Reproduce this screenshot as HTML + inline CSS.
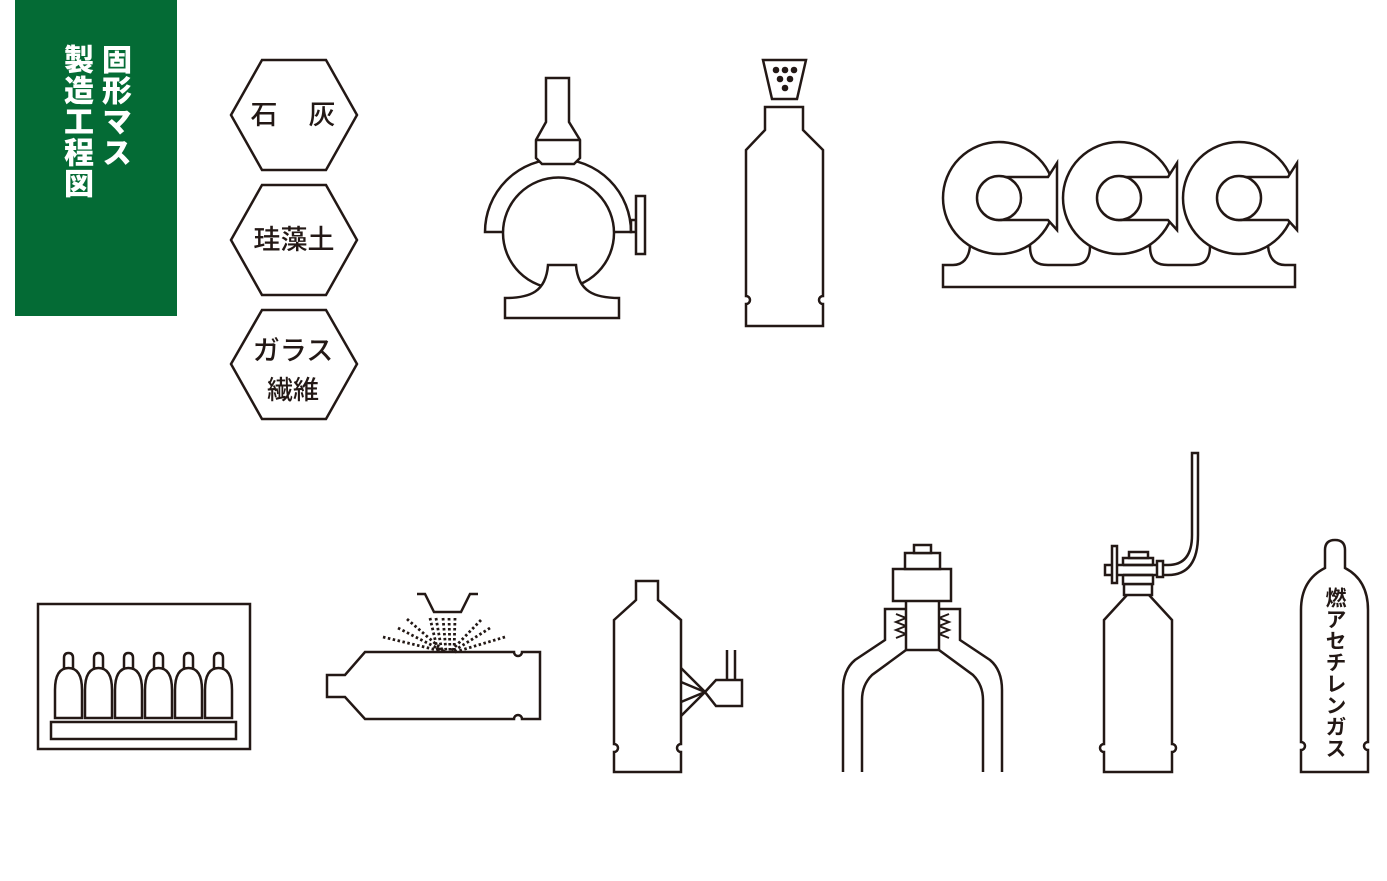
<!DOCTYPE html>
<html><head><meta charset="utf-8"><style>
html,body{margin:0;padding:0;background:#fff;}
svg{display:block;}
.v{position:absolute;writing-mode:vertical-rl;color:#fff;font-family:"Liberation Sans","Noto Sans CJK JP",sans-serif;font-weight:900;font-size:30px;line-height:34px;letter-spacing:1px;}
</style></head><body>
<div style="position:relative;width:1387px;height:881px;overflow:hidden">
<svg width="1387" height="881" viewBox="0 0 1387 881" xmlns="http://www.w3.org/2000/svg">
<rect x="15" y="0" width="162" height="316" fill="#046b35"/>
<g fill="#fff" stroke="#231815" stroke-width="2.5" stroke-linejoin="miter">
<polygon points="231,115 262,60 326,60 357,115 326,170 262,170"/>
<polygon points="231,240 262,185 326,185 357,240 326,295 262,295"/>
<polygon points="231,364 262,310 326,310 357,364 326,419 262,419"/>

<path d="M485,232 A73,73 0 0 1 631,232 L614,232 L503,232 Z"/>
<circle cx="558.5" cy="233" r="55.5"/>
<path d="M505,318 L619,318 L619,298 C595,298 578,292 576,265 L548,265 C546,292 530,298 505,298 Z"/>
<rect x="631" y="220" width="5" height="12"/>
<rect x="636" y="196" width="9" height="58"/>
<path d="M546,78 L569,78 L569,122 L580,140 L580,158 L574,164 L542,164 L536,158 L536,140 L546,122 Z"/>
<line x1="536" y1="140" x2="580" y2="140"/>

<path d="M763,60 L806,60 L797,99 L772,99 Z"/>
<path d="M765,107 L803,107 L803,130 L823,150 L823,296 A4,4 0 0 0 823,304 L823,326 L746,326 L746,304 A4,4 0 0 0 746,296 L746,150 L765,130 Z"/>

<path d="M943,287 L1295,287 L1295,265 L1285,265 C1275,265 1269,258 1268,246 L1210,246 C1210,262 1202,265 1192,265 L1168,265 C1158,265 1150,262 1150,246 L1090,246 C1090,262 1082,265 1072,265 L1048,265 C1038,265 1030,262 1030,246 L970,246 C969,258 963,265 953,265 L943,265 Z"/>
</g>
<g fill="#231815">
<circle cx="776" cy="70" r="3.3"/><circle cx="785" cy="70" r="3.3"/><circle cx="794" cy="70" r="3.3"/>
<circle cx="780" cy="79" r="3.3"/><circle cx="790" cy="79" r="3.3"/><circle cx="785" cy="88" r="3.3"/>
</g>
<g fill="#fff" stroke="#231815" stroke-width="2.5">
<g>
<circle cx="999" cy="198" r="56"/>
<path d="M999,177 L1048,177 L1057,163 L1057,230 L1048,220 L999,220 Z"/>
<circle cx="999" cy="198" r="22"/>
</g>
<g transform="translate(120,0)">
<circle cx="999" cy="198" r="56"/>
<path d="M999,177 L1048,177 L1057,163 L1057,230 L1048,220 L999,220 Z"/>
<circle cx="999" cy="198" r="22"/>
</g>
<g transform="translate(240,0)">
<circle cx="999" cy="198" r="56"/>
<path d="M999,177 L1048,177 L1057,163 L1057,230 L1048,220 L999,220 Z"/>
<circle cx="999" cy="198" r="22"/>
</g>

<rect x="38" y="604" width="212" height="145"/>
<rect x="51" y="722" width="185" height="17"/>
<g id="ob">
<path d="M64,670 L64,658 Q64,653 68.5,653 Q73,653 73,658 L73,670"/>
<path d="M55,718 L55,690 Q55,668 68.5,668 Q82,668 82,690 L82,718 Z"/>
</g>
<use href="#ob" x="30"/><use href="#ob" x="60"/><use href="#ob" x="90"/><use href="#ob" x="120"/><use href="#ob" x="150"/>

<path d="M327,675 L345,675 L365,652 L514,652 A4,4 0 0 0 522,652 L540,652 L540,719 L522,719 A4,4 0 0 0 514,719 L365,719 L345,697 L327,697 Z"/>
<path d="M417,594 L425,594 L434,612 L461,612 L470,594 L478,594" fill="none"/>
</g>
<g stroke="#231815" stroke-width="2.8" stroke-dasharray="2.5,2.5" fill="none">
<line x1="383" y1="637" x2="445" y2="652"/>
<line x1="398" y1="628" x2="445" y2="652"/>
<line x1="407" y1="619" x2="445" y2="652"/>
<line x1="430" y1="618" x2="438" y2="652"/>
<line x1="436" y1="618" x2="442" y2="652"/>
<line x1="443" y1="618" x2="446" y2="652"/>
<line x1="449" y1="618" x2="450" y2="652"/>
<line x1="455" y1="618" x2="454" y2="652"/>
<line x1="481" y1="620" x2="450" y2="652"/>
<line x1="490" y1="628" x2="452" y2="652"/>
<line x1="505" y1="637" x2="455" y2="652"/>
</g>
<g fill="#fff" stroke="#231815" stroke-width="2.5">
<path d="M636,581 L658,581 L658,600 L681,620 L681,744 A4,4 0 0 0 681,752 L681,772 L614,772 L614,752 A4,4 0 0 0 614,744 L614,620 L636,600 Z"/>
<path d="M681,668 L705,692 L681,702 M681,716 L705,692 L681,682" fill="none"/>
<path d="M705,692 L716,680 L742,680 L742,706 L716,706 Z"/>
<path d="M727,650 L727,680 M735,650 L735,680" fill="none"/>

<path d="M843,772 L843,690 Q843,670 855,660 L885,640 L885,609 L906,609 M939,609 L960,609 L960,640 L990,660 Q1002,670 1002,690 L1002,772" fill="none"/>
<path d="M862,772 L862,700 Q862,685 872,675 L906,650 M939,650 L973,675 Q983,685 983,700 L983,772" fill="none"/>
<path d="M896,614 L906,618 L896,622 L906,626 L896,630 L906,634 L896,638 M949,614 L939,618 L949,622 L939,626 L949,630 L939,634 L949,638" fill="none" stroke-width="2"/>
<rect x="906" y="600" width="33" height="50"/>
<rect x="893" y="569" width="58" height="32"/>
<rect x="905" y="553" width="35" height="16"/>
<rect x="914" y="545" width="17" height="8"/>

<path d="M1127,595 L1104,620 L1104,744 A4,4 0 0 0 1104,752 L1104,772 L1172,772 L1172,752 A4,4 0 0 0 1172,744 L1172,620 L1149,595"/>
<rect x="1124" y="584" width="28" height="11"/>
<rect x="1123" y="558" width="30" height="26"/>
<rect x="1129" y="552" width="19" height="6"/>
<path d="M1105,565 L1168,565 Q1192,565 1192,535 L1192,453 L1198,453 L1198,535 Q1198,575 1168,575 L1105,575 Z"/>
<rect x="1112" y="546" width="5" height="37"/>
<rect x="1157" y="561" width="6" height="16"/>
<line x1="1123" y1="565" x2="1153" y2="565"/>
<line x1="1123" y1="575" x2="1153" y2="575"/>

<path d="M1325,568 L1325,550 Q1325,540 1335,540 Q1345,540 1345,550 L1345,568 Q1368,580 1368,610 L1368,742 A4,4 0 0 0 1368,750 L1368,772 L1301,772 L1301,750 A4,4 0 0 0 1301,742 L1301,610 Q1301,580 1325,568 Z"/>
</g>
<g font-family="Liberation Sans,Noto Sans CJK JP,sans-serif" fill="#231815" text-anchor="middle" font-weight="500">
<text x="264" y="124" font-size="27">石</text>
<text x="322" y="124" font-size="27">灰</text>
<text x="294" y="249" font-size="27">珪藻土</text>
<text x="293" y="360" font-size="27">ガラス</text>
<text x="293" y="399" font-size="26">繊維</text>
</g>
</svg>
<div class="v" style="left:96px;top:44px;">固形マス</div>
<div class="v" style="left:58px;top:44px;">製造工程図</div>
<div style="position:absolute;left:1322px;top:587px;writing-mode:vertical-rl;font-family:'Liberation Sans','Noto Sans CJK JP',sans-serif;font-size:21px;line-height:24px;letter-spacing:0.5px;color:#231815;font-weight:bold;">燃アセチレンガス</div>
</div>
</body></html>
